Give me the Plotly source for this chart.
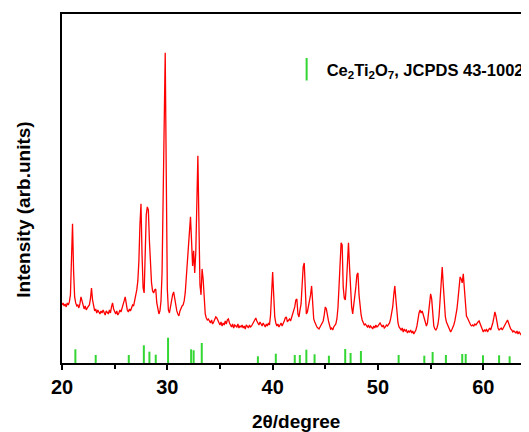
import numpy as np
import plotly.graph_objects as go

# Measured XRD pattern, 0.1 degree steps starting at 20.0 (arb. units)
intensity = [
    58, 60, 57, 59, 56, 60, 58, 61, 68, 98,      # 20.x
    139, 92, 66, 60, 57, 58, 55, 59, 66, 62,     # 21.x
    56, 54, 57, 53, 55, 56, 58, 64, 75, 63,      # 22.x
    55, 52, 54, 50, 53, 51, 49, 52, 50, 53,      # 23.x
    51, 48, 52, 50, 49, 53, 50, 56, 60, 54,      # 24.x
    51, 49, 52, 48, 50, 53, 51, 54, 57, 62,      # 25.x
    66, 58, 53, 51, 54, 52, 56, 58, 57, 62,      # 26.x
    70, 73, 82, 102, 138, 159, 108, 75, 70, 112, # 27.x
    148, 156, 153, 122, 92, 80, 72, 70, 73, 74,  # 28.x
    60, 55, 49, 52, 62, 90, 182, 265, 310, 188,  # 29.x
    74, 53, 50, 56, 63, 68, 71, 64, 60, 52,      # 30.x
    49, 47, 52, 55, 57, 58, 62, 70, 86, 105,     # 31.x
    118, 138, 146, 122, 97, 112, 90, 110, 160, 207,  # 32.x
    140, 78, 68, 94, 84, 62, 49, 45, 43, 44,     # 33.x
    42, 40, 43, 39, 41, 44, 46, 45, 42, 40,      # 34.x
    38, 41, 37, 40, 38, 42, 39, 43, 44, 40,      # 35.x
    38, 36, 39, 35, 38, 37, 36, 39, 35, 37,      # 36.x
    36, 38, 35, 37, 34, 38, 36, 35, 38, 36,      # 37.x
    37, 39, 41, 43, 45, 42, 40, 38, 41, 39,      # 38.x
    37, 40, 38, 36, 39, 37, 40, 38, 48, 72,      # 39.x
    91, 68, 46, 40, 37, 39, 36, 38, 40, 37,      # 40.x
    39, 42, 45, 46, 41, 43, 44, 42, 45, 49,      # 41.x
    51, 56, 63, 64, 49, 46, 53, 59, 78, 96,      # 42.x
    100, 64, 49, 51, 57, 60, 68, 77, 60, 44,     # 43.x
    41, 38, 36, 35, 34, 36, 38, 40, 42, 48,      # 44.x
    56, 54, 46, 42, 38, 34, 35, 33, 36, 38,      # 45.x
    39, 44, 55, 76, 100, 120, 118, 76, 65, 63,   # 46.x
    78, 108, 120, 96, 70, 56, 49, 57, 63, 76,    # 47.x
    88, 90, 68, 56, 48, 43, 40, 38, 39, 37,      # 48.x
    36, 38, 35, 37, 36, 34, 37, 35, 38, 36,      # 49.x
    37, 39, 40, 38, 36, 38, 35, 36, 38, 37,      # 50.x
    38, 40, 44, 49, 56, 68, 77, 64, 48, 40,      # 51.x
    36, 34, 33, 35, 31, 34, 32, 33, 30, 32,      # 52.x
    31, 33, 30, 32, 29, 31, 33, 37, 44, 50,      # 53.x
    53, 50, 52, 48, 44, 39, 37, 40, 50, 62,      # 54.x
    69, 64, 48, 37, 34, 33, 35, 39, 47, 62,      # 55.x
    80, 96, 78, 56, 46, 41, 38, 35, 33, 31,      # 56.x
    33, 35, 38, 42, 47, 54, 64, 78, 86, 84,      # 57.x
    80, 89, 74, 58, 47, 45, 42, 40, 38, 37,      # 58.x
    38, 37, 39, 38, 40, 41, 42, 39, 36, 33,      # 59.x
    31, 33, 32, 34, 31, 33, 35, 33, 36, 40,      # 60.x
    45, 51, 47, 38, 35, 33, 34, 35, 33, 36,      # 61.x
    37, 39, 42, 43, 40, 36, 34, 33, 31, 32,      # 62.x
    31, 30, 32, 29, 31, 29, 28, 30, 29, 31,      # 63.x
    30, 32, 31, 33,                              # 64.0-64.3
]
start_angle = 20.0
step = 0.1
two_theta = np.round(start_angle + step * np.arange(len(intensity)), 2)

# JCPDS 43-1002 reference lines (position, relative height)
ref_pos = [21.27, 23.2, 26.34, 27.77, 28.3, 28.9, 30.07, 32.26, 32.5, 33.27,
           38.6, 40.3, 42.1, 42.58, 43.2, 43.98, 45.34, 46.89, 47.4, 48.38,
           51.96, 54.4, 55.19, 56.45, 58.0, 58.33, 59.97, 61.5, 62.5]
ref_h = [13.7, 8, 8, 17.7, 11.3, 8.3, 25.3, 13.7, 12.7, 20,
         6.7, 9.3, 8, 8, 13.3, 8.7, 7.3, 14, 10, 12,
         8, 7.3, 11, 8, 9, 9, 7.7, 7.7, 6.7]

ref_label = "Ce<sub>2</sub>Ti<sub>2</sub>O<sub>7</sub>, JCPDS 43-1002"
x_title = "2θ/degree"
y_title = "Intensity (arb.units)"

FONT = "Liberation Sans, Arial, Helvetica, sans-serif"
RED = "#ff0000"
GREEN = "#33d633"

stick_x, stick_y = [], []
for p, h in zip(ref_pos, ref_h):
    stick_x += [p, p, None]
    stick_y += [0, h, None]

fig = go.Figure()
fig.add_trace(go.Scatter(x=two_theta, y=intensity, mode="lines",
                         line=dict(color=RED, width=1.3), showlegend=False,
                         hoverinfo="skip"))
fig.add_trace(go.Scatter(x=stick_x, y=stick_y, mode="lines",
                         line=dict(color=GREEN, width=2), showlegend=False,
                         hoverinfo="skip"))
fig.add_trace(go.Scatter(x=[None], y=[None], mode="markers", name=ref_label,
                         marker=dict(symbol="line-ns-open", size=16,
                                     color=GREEN, line=dict(color=GREEN, width=2)),
                         showlegend=True))

# page body has an 8px default margin, so the figure is 8px smaller
fig.update_layout(
    width=521, height=424,
    margin=dict(l=54, r=0, t=6, b=69, autoexpand=False),
    paper_bgcolor="white", plot_bgcolor="white",
    font=dict(family=FONT, color="black"),
    legend=dict(x=0.481, xanchor="left", y=0.841, yanchor="middle",
                bgcolor="rgba(0,0,0,0)", borderwidth=0,
                font=dict(family=FONT, size=16.5, color="black", weight="bold")),
    annotations=[
        dict(text=y_title, textangle=-90, showarrow=False,
             xref="paper", yref="paper", x=-0.0824, y=0.438,
             xanchor="center", yanchor="middle",
             font=dict(family=FONT, size=19, color="black", weight="bold")),
        dict(text=x_title, showarrow=False,
             xref="paper", yref="paper", x=0.5, y=-0.167,
             xanchor="center", yanchor="middle",
             font=dict(family=FONT, size=19, color="black", weight="bold")),
    ],
)
fig.update_xaxes(range=[20, 64.34], showline=True, linecolor="black", linewidth=2,
                 mirror=True, showgrid=False, zeroline=False,
                 ticks="outside", ticklen=5, tickwidth=2, tickcolor="black",
                 tickvals=[20, 30, 40, 50, 60],
                 minor=dict(ticks="outside", ticklen=4, tickwidth=2, tickcolor="black",
                            tickvals=[25, 35, 45, 55, 65], showgrid=False),
                 tickfont=dict(family=FONT, size=20, color="black", weight="bold"))
fig.update_yaxes(range=[0, 348.7], showline=True, linecolor="black", linewidth=2,
                 mirror=False, showgrid=False, zeroline=False, ticks="",
                 showticklabels=False)

fig.write_html("out.html")
